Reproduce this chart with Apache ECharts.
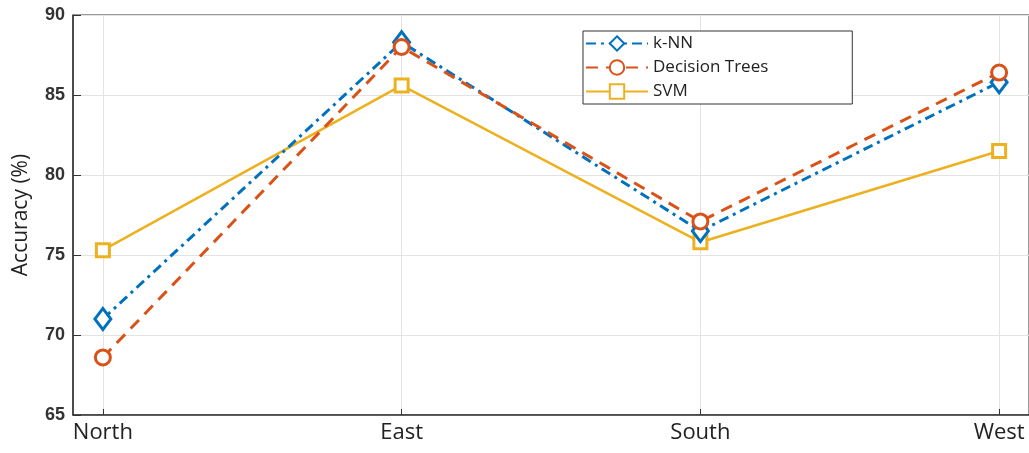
<!DOCTYPE html>
<html><head><meta charset="utf-8">
<script src="https://cdn.jsdelivr.net/npm/echarts@6/dist/echarts.min.js"></script>
<style>html,body{margin:0;padding:0;background:#fff}#c{width:1029px;height:453px}</style>
</head><body><div id="c"></div>
<script>
const categories = ['North', 'East', 'South', 'West'];
const knn = [71.0, 88.3, 76.5, 85.8];
const decisionTrees = [68.6, 88.0, 77.1, 86.4];
const svm = [75.3, 85.6, 75.8, 81.5];
const yTicks = [65, 70, 75, 80, 85, 90];

const pos = categories.map((c, i) => i + 1);
const toData = arr => arr.map((v, i) => [pos[i], v]);

const chart = echarts.init(document.getElementById('c'));
chart.setOption({
  animation: false,
  grid: { left: 73, top: 15, width: 961, height: 400, show: true, borderColor: '#333', borderWidth: 1, backgroundColor: 'transparent' },
  legend: {
    left: 583, top: 31, orient: 'vertical', itemGap: 7, itemWidth: 62, itemHeight: 18,
    backgroundColor: '#fff', borderColor: '#333', borderWidth: 1, padding: [4, 84, 4, 2],
    textStyle: { fontFamily: 'Open Sans', fontSize: 17, color: '#222' },
    data: ['k-NN', 'Decision Trees', 'SVM']
  },
  xAxis: {
    type: 'value', min: 0.9, max: 4.1,
    axisLine: { show: true, lineStyle: { color: '#333', width: 1.5 } },
    axisTick: { show: true, inside: true, length: 6, customValues: pos, lineStyle: { color: '#333' } },
    axisLabel: { customValues: pos, formatter: v => categories[Math.round(v) - 1] || '', fontFamily: 'Open Sans', fontSize: 22, color: '#222', margin: 7 },
    splitLine: { show: true, lineStyle: { color: '#e3e3e3', width: 1 } }
  },
  yAxis: {
    type: 'value', min: 65, max: 90, interval: 5,
    name: 'Accuracy (%)', nameLocation: 'middle', nameGap: 41,
    nameTextStyle: { fontFamily: 'Open Sans', fontSize: 21, color: '#222' },
    axisLine: { show: true, lineStyle: { color: '#333', width: 1.5 } },
    axisTick: { show: true, inside: true, length: 8, lineStyle: { color: '#333' } },
    axisLabel: { fontFamily: 'Liberation Sans', fontWeight: 'bold', fontSize: 18, color: '#333', margin: 8, formatter: v => yTicks.includes(v) ? String(v) : '' },
    splitLine: { show: true, lineStyle: { color: '#e3e3e3', width: 1 } }
  },
  series: [
    { name: 'k-NN', type: 'line', data: toData(knn), symbol: 'diamond', symbolSize: [16, 21],
      itemStyle: { color: '#fff', borderColor: '#0072BD', borderWidth: 3 },
      lineStyle: { color: '#0072BD', width: 3, type: [10, 5, 3, 5] }, color: '#0072BD', z: 3 },
    { name: 'Decision Trees', type: 'line', data: toData(decisionTrees), symbol: 'circle', symbolSize: 15,
      itemStyle: { color: '#fff', borderColor: '#D95319', borderWidth: 3 },
      lineStyle: { color: '#D95319', width: 3, type: [12, 8] }, color: '#D95319', z: 4 },
    { name: 'SVM', type: 'line', data: toData(svm), symbol: 'rect', symbolSize: 13,
      itemStyle: { color: '#fff', borderColor: '#EDB120', borderWidth: 3 },
      lineStyle: { color: '#EDB120', width: 2.5 }, color: '#EDB120', z: 2 }
  ]
});
</script></body></html>
